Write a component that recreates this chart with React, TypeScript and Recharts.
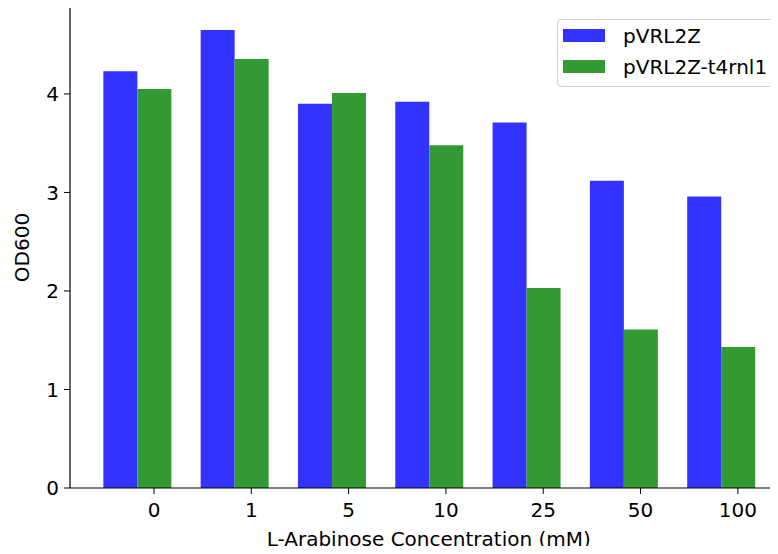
import { BarChart, Bar, XAxis, YAxis, Legend } from "recharts";

const categories = ["0", "1", "5", "10", "25", "50", "100"];
const pVRL2Z = [4.23, 4.65, 3.9, 3.92, 3.71, 3.12, 2.96];
const pVRL2Zt4rnl1 = [4.05, 4.355, 4.01, 3.48, 2.03, 1.61, 1.43];
const yTicks = [0, 1, 2, 3, 4];

const data = categories.map((c, i) => ({
  conc: c,
  pVRL2Z: pVRL2Z[i],
  "pVRL2Z-t4rnl1": pVRL2Zt4rnl1[i],
}));

const FONT = "'DejaVu Sans', sans-serif";
const FS = 20;

function renderLegend(props: any) {
  const { payload } = props;
  return (
    <div
      style={{
        border: "1px solid #d0d0d0",
        borderRadius: 4,
        background: "#fff",
        padding: "0 6px 4px 5px",
        fontFamily: FONT,
        fontSize: FS,
        color: "#000",
        whiteSpace: "nowrap",
        display: "inline-block",
      }}
    >
      {payload.map((entry: any) => (
        <div key={entry.value} style={{ display: "flex", alignItems: "center", height: 31 }}>
          <span
            style={{
              display: "inline-block",
              width: 42,
              height: 13,
              background: entry.color,
              marginRight: 18,
            }}
          />
          {entry.value}
        </div>
      ))}
    </div>
  );
}

export default function App() {
  return (
    <div style={{ width: 778, height: 554, overflow: "hidden", margin: -8, position: "relative", background: "#fff" }}>
      <BarChart
        width={790}
        height={554}
        data={data}
        margin={{ top: 7, right: 2.5, left: 0, bottom: 0 }}
        barGap={0}
        barSize={34}
      >
        <XAxis
          xAxisId="bars"
          dataKey="conc"
          orientation="top"
          height={0}
          tick={false}
          tickLine={false}
          axisLine={{ stroke: "#000", strokeWidth: 1.2 }}
          padding={{ left: 18.35, right: 18 }}
        />
        <XAxis
          xAxisId="cat"
          dataKey="conc"
          height={66}
          padding={{ left: 35.35, right: 1 }}
          axisLine={{ stroke: "#000", strokeWidth: 1.2 }}
          tickLine={{ stroke: "#000" }}
          tickSize={6}
          tickMargin={9}
          tick={{ fill: "#000", fontFamily: FONT, fontSize: FS }}
          label={{
            value: "L-Arabinose Concentration (mM)",
            position: "insideBottom",
            offset: 8,
            style: { fill: "#000", fontFamily: FONT, fontSize: FS },
          }}
        />
        <YAxis
          width={70}
          domain={[0, 4.8825]}
          ticks={yTicks}
          allowDataOverflow
          axisLine={{ stroke: "#000", strokeWidth: 1.2 }}
          tickLine={{ stroke: "#000" }}
          tickSize={6}
          tickMargin={5}
          tick={{ fill: "#000", fontFamily: FONT, fontSize: FS }}
          label={{
            value: "OD600",
            angle: -90,
            position: "insideLeft",
            offset: 22,
            style: { fill: "#000", fontFamily: FONT, fontSize: FS, textAnchor: "middle" },
          }}
        />
        <Legend
          verticalAlign="middle"
          align="center"
          layout="vertical"
          content={renderLegend}
          wrapperStyle={{ left: 557, top: 19, width: "auto" }}
        />
        <Bar xAxisId="bars" dataKey="pVRL2Z" fill="#3333ff" isAnimationActive={false} />
        <Bar xAxisId="bars" dataKey="pVRL2Z-t4rnl1" fill="#339933" isAnimationActive={false} />
      </BarChart>
    </div>
  );
}
